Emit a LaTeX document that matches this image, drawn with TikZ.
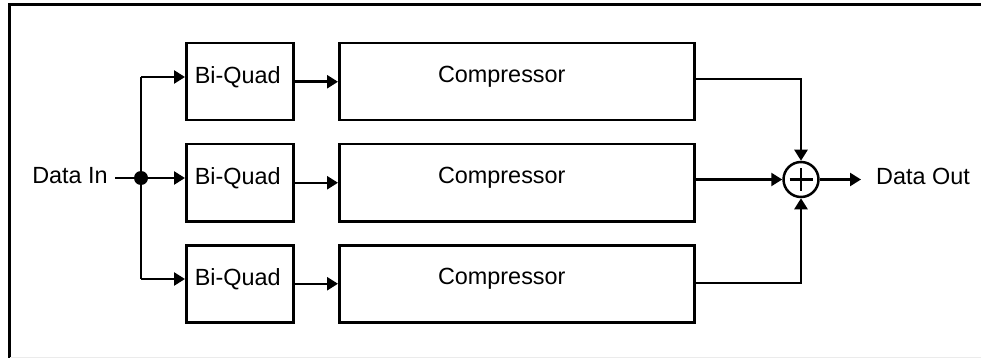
\documentclass[tikz,border=0pt]{standalone}
\usepackage{fontspec}
\setmainfont{Liberation Sans}
\usetikzlibrary{arrows.meta,calc}
\begin{document}
\begin{tikzpicture}[x=1pt,y=-1pt,
  line width=2.5pt,
  blk/.style={draw,line width=2.5pt,minimum width=107pt,minimum height=77pt,anchor=north west,inner sep=0pt},
  cblk/.style={draw,line width=2.5pt,minimum width=355pt,minimum height=77pt,anchor=north west,inner sep=0pt},
  lbl/.style={font=\fontsize{23.4}{28}\selectfont,inner sep=0pt},
  arr/.style={-{Triangle[length=11pt,width=13pt]},line width=2.5pt},
  sumnode/.style={draw,circle,line width=2.5pt,minimum size=35pt,inner sep=0pt}]
\useasboundingbox (0,0) rectangle (981,358);
% frame
\draw[line width=3pt] (981,4.5) -- (9,4.5) -- (9,358);
\draw[line width=1pt,black!8] (10,357.5) -- (981,357.5);
% blocks
\node[blk] (bq1) at (185,42) {};
\node[blk] (bq2) at (185,143) {};
\node[blk] (bq3) at (185,244) {};
\node[cblk] (c1) at (338,42) {};
\node[cblk] (c2) at (338,143) {};
\node[cblk] (c3) at (338,244) {};
\foreach \i in {1,2,3}{
  \node[lbl] (tbq\i) at ($(bq\i.center)+(-2,-5)$) {Bi-Quad};
  \node[lbl] (tc\i) at ($(c\i.center)+(-15,-5)$) {Compressor};
}
% input
\node[lbl] (din) at (70,176) {Data In};
\coordinate (jn) at (141,178);
\coordinate (b1) at (141,77);
\coordinate (b3) at (141,279);
\draw (115,178) -- (jn);
\fill (jn) circle (7pt);
\draw (b1) -- (b3);
\draw[arr] (b1) -- (b1 -| bq1.west);
\draw[arr] (jn) -- (jn -| bq2.west);
\draw[arr] (b3) -- (b3 -| bq3.west);
% bq to compressor
\foreach \i in {1,2,3}{
  \draw[arr] (bq\i.east) -- (c\i.west);
}
% summer
\node[sumnode] (sum) at (801,179.5) {};
\draw (sum.center) ++(-11.5,0) -- ++(23,0);
\draw (sum.center) ++(0,-11.5) -- ++(0,23);
\coordinate (o1) at (c1.east |- 0,79);
\coordinate (o3) at (c3.east |- 0,283);
\draw[arr] (o1) -- (o1 -| sum.north) -- (sum.north);
\draw[arr] (c2.east |- sum.west) -- (sum.west);
\draw[arr] (o3) -- (o3 -| sum.south) -- (sum.south);
\node[lbl] (dout) at (923,176) {Data Out};
\coordinate (oe) at (861,179.5);
\draw[arr] (sum.east) -- (oe);
\end{tikzpicture}
\end{document}
